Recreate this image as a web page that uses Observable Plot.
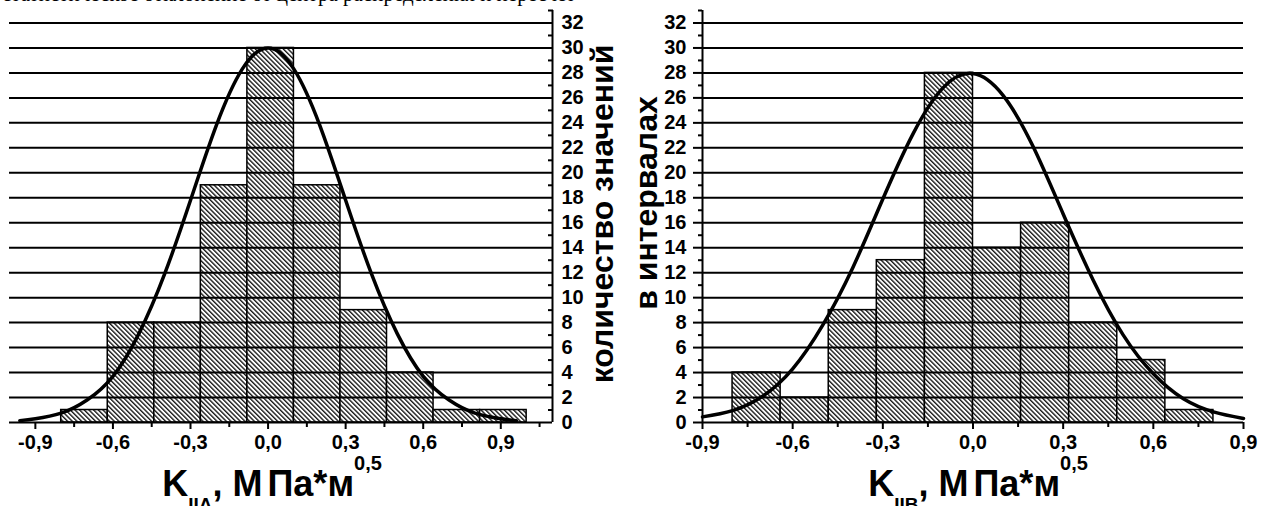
<!DOCTYPE html>
<html><head><meta charset="utf-8">
<script src="https://cdn.jsdelivr.net/npm/d3@7"></script>
<script src="https://cdn.jsdelivr.net/npm/@observablehq/plot@0.6"></script>
<style>
html,body{margin:0;padding:0;background:#fff;}
#wrap{position:relative;width:1266px;height:506px;overflow:hidden;font-family:"Liberation Sans",Arial,sans-serif;color:#000;}
.abs{position:absolute;}
.xt{font-weight:bold;font-size:36px;white-space:nowrap;line-height:36px;transform:translateX(-50%);}
.xt .sb{position:relative;font-size:19px;top:15px;}
.xt .sp{position:relative;font-size:20px;top:-26px;}
.xt .gap{letter-spacing:5px;}
.yt{font-weight:bold;font-size:32px;white-space:nowrap;line-height:32px;transform:translate(-50%,-50%) rotate(-90deg);}
.top{font-family:"Liberation Serif","Times New Roman",serif;font-size:21px;white-space:nowrap;}
</style>
</head><body>
<div id="wrap">
  <div class="abs top" style="left:2px;top:-18px;">статистическое отклонение от центра распределения и пересчет</div>
  <div id="left" class="abs" style="left:0;top:0;"></div>
  <div id="right" class="abs" style="left:620px;top:0;"></div>
  <div class="abs xt" style="left:272px;top:466px;">K<span class="sb">IIA</span>, <span class="gap">М</span>Па*м<span class="sp">0,5</span></div>
  <div class="abs xt" style="left:978px;top:466px;">K<span class="sb">IIB</span>, <span class="gap">М</span>Па*м<span class="sp">0,5</span></div>
  <div class="abs yt" style="left:602px;top:214px;">количество значений</div>
  <div class="abs yt" style="left:646px;top:203px;">в интервалах</div>
</div>
<script>
// ---- data ----
const leftEdges  = [-0.80, -0.62, -0.44, -0.26, -0.08, 0.10, 0.28, 0.46, 0.64, 0.82, 1.00];
const leftCounts = [1, 8, 8, 19, 30, 19, 9, 4, 1, 1];
const rightEdges  = [-0.80, -0.64, -0.48, -0.32, -0.16, 0.00, 0.16, 0.32, 0.48, 0.64, 0.80];
const rightCounts = [4, 2, 9, 13, 28, 14, 16, 8, 5, 1];

const leftCurveX = [-0.96, -0.9, -0.8, -0.7, -0.6, -0.5, -0.4, -0.3, -0.2, -0.1, 0.0, 0.1, 0.2, 0.3, 0.4, 0.5, 0.6, 0.7, 0.8, 0.9, 0.96];
const leftCurveY = [0.15, 0.3, 0.75, 1.8, 3.7, 7.1, 11.9, 17.8, 23.8, 28.3, 30.0, 28.3, 23.8, 17.8, 11.9, 7.1, 3.7, 1.8, 0.75, 0.3, 0.15];
const rightCurveX = [-0.9, -0.8, -0.7, -0.6, -0.5, -0.4, -0.3, -0.2, -0.1, 0.0, 0.1, 0.2, 0.3, 0.4, 0.5, 0.6, 0.7, 0.8, 0.9];
const rightCurveY = [0.45, 0.95, 2.1, 4.3, 7.8, 12.4, 17.9, 23.1, 26.8, 27.95, 26.2, 22.1, 16.7, 11.4, 7.0, 3.9, 1.9, 0.85, 0.32];

const yMajor = [0, 2, 4, 6, 8, 10, 12, 14, 16, 18, 20, 22, 24, 26, 28, 30, 32];
const yMinor = [1, 3, 5, 7, 9, 11, 13, 15, 17, 19, 21, 23, 25, 27, 29, 31, 33];
const xMajor = [-0.9, -0.6, -0.3, 0.0, 0.3, 0.6, 0.9];
const xMinorLeft = [-0.75, -0.45, -0.15, 0.15, 0.45, 0.75, 1.05];
const xMinorRight = [-0.75, -0.45, -0.15, 0.15, 0.45, 0.75];
const leftXDomain = [-1.0, 1.1];
const rightXDomain = [-0.9, 0.9];
const yDomain = [0, 33];

// ---- helpers ----
const bins = (edges, counts) => counts.map((c, i) => ({x1: edges[i], x2: edges[i + 1], count: c}));
const pts = (xs, ys) => xs.map((x, i) => ({x, y: ys[i]}));
const fmt = d => d.toFixed(1).replace(".", ",");
const none = () => "";
const font = {fontSize: 20, fontWeight: "bold"};

function addPattern(svg, id) {
  const ns = "http://www.w3.org/2000/svg";
  const defs = document.createElementNS(ns, "defs");
  defs.innerHTML = `<pattern id="${id}" patternUnits="userSpaceOnUse" width="3.3" height="3.3" patternTransform="rotate(-45)"><rect width="3.3" height="3.3" fill="#fff"/><line x1="0.7" y1="-1" x2="0.7" y2="4.3" stroke="#000" stroke-width="1.25"/></pattern>`;
  svg.insertBefore(defs, svg.firstChild);
}

const baseStyle = {fontFamily: "'Liberation Sans', Arial, sans-serif", fontSize: "20px", fontWeight: "bold", background: "transparent", color: "#000", overflow: "visible"};

const left = Plot.plot({
  width: 640, height: 506,
  marginLeft: 9, marginRight: 88, marginTop: 10, marginBottom: 84,
  x: {domain: leftXDomain},
  y: {domain: yDomain},
  style: baseStyle,
  marks: [
    Plot.rect(bins(leftEdges, leftCounts), {x1: "x1", x2: "x2", y1: 0, y2: "count", fill: "url(#hatchL)", stroke: "#000", strokeWidth: 1.5}),
    Plot.ruleY(yMajor, {stroke: "#000", strokeWidth: 2}),
    Plot.ruleX([leftXDomain[1]], {y1: yDomain[0], y2: yDomain[1], stroke: "#000", strokeWidth: 2}),
    Plot.axisY({anchor: "right", ticks: yMajor, tickSize: 0, tickPadding: 9, tickFormat: d => String(d), label: null, ...font}),
    Plot.axisY({anchor: "right", ticks: yMinor, tickSize: -5, tickFormat: none, label: null, strokeWidth: 2}),
    Plot.axisX({ticks: xMajor, tickSize: 7, tickPadding: 5, tickFormat: fmt, label: null, strokeWidth: 2, ...font}),
    Plot.axisX({ticks: xMinorLeft, tickSize: 5, tickFormat: none, label: null, strokeWidth: 2}),
    Plot.line(pts(leftCurveX, leftCurveY), {x: "x", y: "y", curve: "natural", stroke: "#000", strokeWidth: 3.5})
  ]
});
addPattern(left, "hatchL");
document.getElementById("left").appendChild(left);

const right = Plot.plot({
  width: 646, height: 506,
  marginLeft: 82, marginRight: 23, marginTop: 10, marginBottom: 84,
  x: {domain: rightXDomain},
  y: {domain: yDomain},
  style: baseStyle,
  marks: [
    Plot.rect(bins(rightEdges, rightCounts), {x1: "x1", x2: "x2", y1: 0, y2: "count", fill: "url(#hatchR)", stroke: "#000", strokeWidth: 1.5}),
    Plot.ruleY(yMajor, {stroke: "#000", strokeWidth: 2}),
    Plot.ruleX([rightXDomain[0]], {y1: yDomain[0], y2: yDomain[1], stroke: "#000", strokeWidth: 2}),
    Plot.axisY({anchor: "left", ticks: yMajor, tickSize: 9, tickPadding: 7, tickFormat: d => String(d), label: null, strokeWidth: 2, ...font}),
    Plot.axisY({anchor: "left", ticks: yMinor, tickSize: 4, tickFormat: none, label: null, strokeWidth: 2}),
    Plot.axisX({ticks: xMajor, tickSize: 7, tickPadding: 5, tickFormat: fmt, label: null, strokeWidth: 2, ...font}),
    Plot.axisX({ticks: xMinorRight, tickSize: 5, tickFormat: none, label: null, strokeWidth: 2}),
    Plot.line(pts(rightCurveX, rightCurveY), {x: "x", y: "y", curve: "natural", stroke: "#000", strokeWidth: 3.5})
  ]
});
addPattern(right, "hatchR");
document.getElementById("right").appendChild(right);
</script>
</body></html>
